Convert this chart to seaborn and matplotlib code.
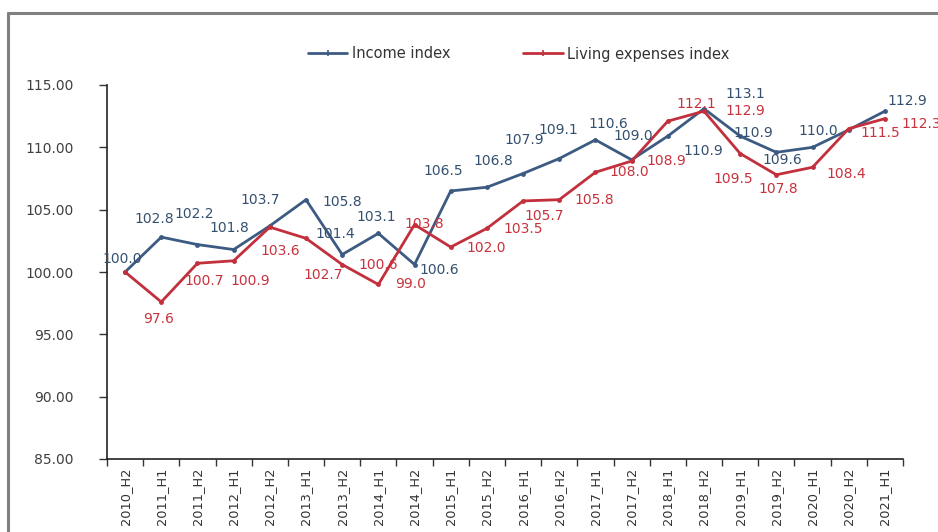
import numpy as np
import pandas as pd
import matplotlib
matplotlib.use("Agg")
import matplotlib.pyplot as plt
from matplotlib.lines import Line2D
import seaborn as sns

# Half-year periods on the category axis
periods = ["2010_H2", "2011_H1", "2011_H2", "2012_H1", "2012_H2", "2013_H1",
           "2013_H2", "2014_H1", "2014_H2", "2015_H1", "2015_H2", "2016_H1",
           "2016_H2", "2017_H1", "2017_H2", "2018_H1", "2018_H2", "2019_H1",
           "2019_H2", "2020_H1", "2020_H2", "2021_H1"]

income_index = [100.0, 102.8, 102.2, 101.8, 103.7, 105.8, 101.4, 103.1, 100.6,
                106.5, 106.8, 107.9, 109.1, 110.6, 109.0, 110.9, 113.1, 110.9,
                109.6, 110.0, 111.4, 112.9]

living_index = [100.0, 97.6, 100.7, 100.9, 103.6, 102.7, 100.6, 99.0, 103.8,
                102.0, 103.5, 105.7, 105.8, 108.0, 108.9, 112.1, 112.9, 109.5,
                107.8, 108.4, 111.5, 112.3]

series_names = ["Income index", "Living expenses index"]
y_ticks = [85.0, 90.0, 95.0, 100.0, 105.0, 110.0, 115.0]

# which points carry a value label
income_labelled = [True] * 20 + [False, True]
living_labelled = [False] + [True] * 21

# label offsets in pixels (dx, dy) from each point
income_offsets = [(-3, 13), (-7, 18), (-3, 31), (-4, 22), (-10, 26), (36, -2),
                  (-7, 21), (-2, 16), (25, -5), (-7, 20), (6, 26), (1, 34),
                  (-1, 29), (13, 16), (2, 24), (35, -15), (41, 15), (13, 3),
                  (6, -8), (6, 16), (0, 0), (22, 10)]
living_offsets = [(0, 0), (-3, -17), (7, -18), (17, -20), (10, -24), (17, -37),
                  (36, 0), (32, 0), (10, 1), (35, -1), (36, -1), (21, -15),
                  (35, 0), (34, 0), (35, 0), (28, 17), (41, 0), (-7, -25),
                  (2, -14), (34, -7), (32, -4), (36, -5)]

line_colors = {"Income index": "#3D5B82", "Living expenses index": "#C1303C"}
label_colors = {"Income index": "#34506F", "Living expenses index": "#C8323C"}

sns.set_theme(style="white")
plt.rcParams["font.family"] = ["DejaVu Sans"]

pos = np.arange(len(periods))
df = pd.DataFrame({
    "pos": np.concatenate([pos, pos]),
    "value": income_index + living_index,
    "series": [series_names[0]] * len(periods) + [series_names[1]] * len(periods),
})

fig = plt.figure(figsize=(9.38, 5.32), dpi=100)
ax = fig.add_axes([107 / 938, 1 - 459 / 532, 796 / 938, 374 / 532])

sns.lineplot(data=df, x="pos", y="value", hue="series", palette=line_colors,
             marker="o", markersize=3.5, markeredgewidth=0, linewidth=2.0,
             ax=ax, legend=False, sort=False)

# value labels
for name, vals, flags, offs in [
    (series_names[0], income_index, income_labelled, income_offsets),
    (series_names[1], living_index, living_labelled, living_offsets),
]:
    for i, (v, show, (dx, dy)) in enumerate(zip(vals, flags, offs)):
        if not show:
            continue
        ax.annotate(f"{v:.1f}", xy=(i, v), xytext=(dx, dy),
                    textcoords="offset pixels", ha="center", va="center",
                    fontsize=10, color=label_colors[name], annotation_clip=False)

# axes limits and ticks
ax.set_xlim(-0.5, len(periods) - 0.5)
ax.set_ylim(85, 115)
ax.set_yticks(y_ticks)
ax.set_yticklabels([f"{t:.2f}" for t in y_ticks], fontsize=10, color="#404040")
ax.tick_params(axis="y", which="major", direction="out", length=6, width=1,
               color="#333333", pad=18, left=True)

ax.set_xticks(np.arange(-0.5, len(periods), 1.0))
ax.set_xticklabels([])
ax.set_xticks(pos, minor=True)
ax.set_xticklabels(periods, minor=True, rotation=90, va="top", ha="center",
                   fontsize=9.3, color="#333333")
ax.tick_params(axis="x", which="major", direction="out", length=5, width=1,
               color="#333333", bottom=True)
ax.tick_params(axis="x", which="minor", length=0, pad=6, bottom=True)

ax.set_xlabel("")
ax.set_ylabel("")
for side in ["top", "right"]:
    ax.spines[side].set_visible(False)
for side in ["left", "bottom"]:
    ax.spines[side].set_color("#222222")
    ax.spines[side].set_linewidth(1.2)

# legend above the plot
handles = [Line2D([0], [0], color=line_colors[n], lw=2.0, marker="|",
                  markersize=4, markeredgewidth=1.2) for n in series_names]
fig.legend(handles, series_names, loc="center", bbox_to_anchor=(0.553, 1 - 54 / 532),
           ncol=2, frameon=False, fontsize=10.5, handlelength=2.7,
           columnspacing=5.0, handletextpad=0.3, labelcolor="#333333")

# chart frame border
fig.add_artist(Line2D([8 / 938, 1.0], [1 - 13 / 532, 1 - 13 / 532],
                      transform=fig.transFigure, color="#808080", lw=2.2))
fig.add_artist(Line2D([8 / 938, 8 / 938], [0.0, 1 - 13 / 532],
                      transform=fig.transFigure, color="#808080", lw=2.2))

fig.savefig("out.png", dpi=100)
